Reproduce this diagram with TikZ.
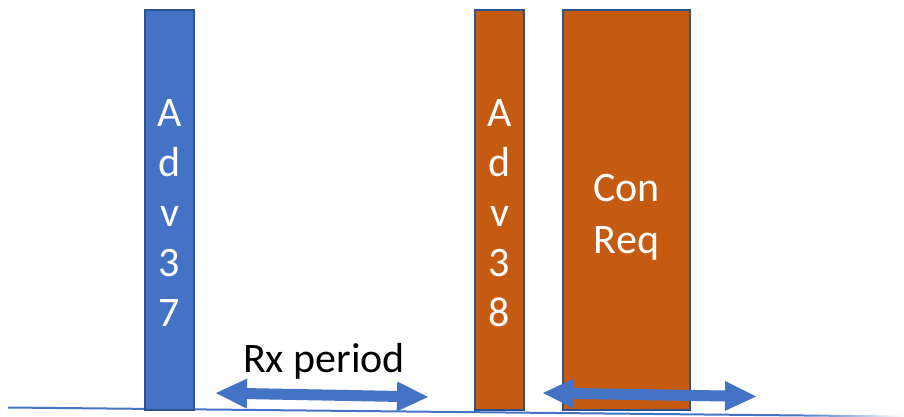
\documentclass[tikz,border=0pt]{standalone}
\usepackage{fontspec}
\setmainfont{Carlito}
\usetikzlibrary{calc}

\definecolor{barblue}{HTML}{4472C4}
\definecolor{barorange}{HTML}{C55A11}
\definecolor{edgeblue}{HTML}{2F528F}
\definecolor{lineblue}{HTML}{4472C4}

\tikzset{
  bar/.style={draw=edgeblue, line width=1.2pt, inner sep=0pt, outer sep=0pt},
  barlabel/.style={text=white, align=center, inner sep=0pt,
                   font=\fontsize{42}{50}\selectfont},
  reqlabel/.style={text=white, align=center, inner sep=0pt,
                   font=\fontsize{42}{52}\selectfont},
  caption/.style={text=black, inner sep=0pt, font=\fontsize{42}{48}\selectfont},
  arrowfill/.style={fill=barblue},
}

% double-headed block arrow between two named points
\newcommand\dblarrow[2]{%
  \fill[arrowfill] let \p1=(#1), \p2=(#2),
      \n1={atan2(\y2-\y1,\x2-\x1)},
      \n2={veclen(\x2-\x1,\y2-\y1)-31} in
    (\p1)
    -- ($(\p1)+(\n1:31pt)+(\n1+90:15pt)$)
    -- ($(\p1)+(\n1:31pt)+(\n1+90:5.5pt)$)
    -- ($(\p1)+(\n1:\n2)+(\n1+90:5.5pt)$)
    -- ($(\p1)+(\n1:\n2)+(\n1+90:15pt)$)
    -- (\p2)
    -- ($(\p1)+(\n1:\n2)+(\n1-90:15pt)$)
    -- ($(\p1)+(\n1:\n2)+(\n1-90:5.5pt)$)
    -- ($(\p1)+(\n1:31pt)+(\n1-90:5.5pt)$)
    -- ($(\p1)+(\n1:31pt)+(\n1-90:15pt)$)
    -- cycle;%
}

\begin{document}
\begin{tikzpicture}[x=1pt, y=-1pt]
  \useasboundingbox (0,0) rectangle (904,417);

  % time axis
  \coordinate (g0) at (8,407.5);
  \coordinate (gm) at ($(g0)!0.88!(904,416.5)$);
  \coordinate (g1) at (904,416.5);
  \draw[lineblue, line width=2pt] (g0) -- (gm);
  \shade[left color=lineblue, right color=white]
    ($(gm)+(0,-1)$) -- ($(g1)+(0,-1)$) -- ($(g1)+(0,1)$) -- ($(gm)+(0,1)$) -- cycle;

  % packets
  \node[bar, fill=barblue, minimum width=49pt, minimum height=400pt] (adv37) at (169.5,210) {};
  \node[bar, fill=barorange, minimum width=49pt, minimum height=400pt] (adv38) at (499.5,210) {};
  \node[bar, fill=barorange, minimum width=127pt, minimum height=400pt] (conreq) at (626.5,210) {};

  \node[barlabel] (t37) at (169.5,213) {A\\d\\v\\3\\7};
  \node[barlabel] (t38) at (499.5,213) {A\\d\\v\\3\\8};
  \node[reqlabel] (treq) at (626.5,217) {Con\\Req};

  % intervals
  \coordinate (ra) at (216,393);
  \coordinate (rb) at (428,397);
  \coordinate (ca) at (543,393);
  \coordinate (cb) at (756,396.5);
  \dblarrow{ra}{rb}
  \dblarrow{ca}{cb}

  \node[caption, anchor=base] (rx) at (324,372) {Rx period};
\end{tikzpicture}
\end{document}
